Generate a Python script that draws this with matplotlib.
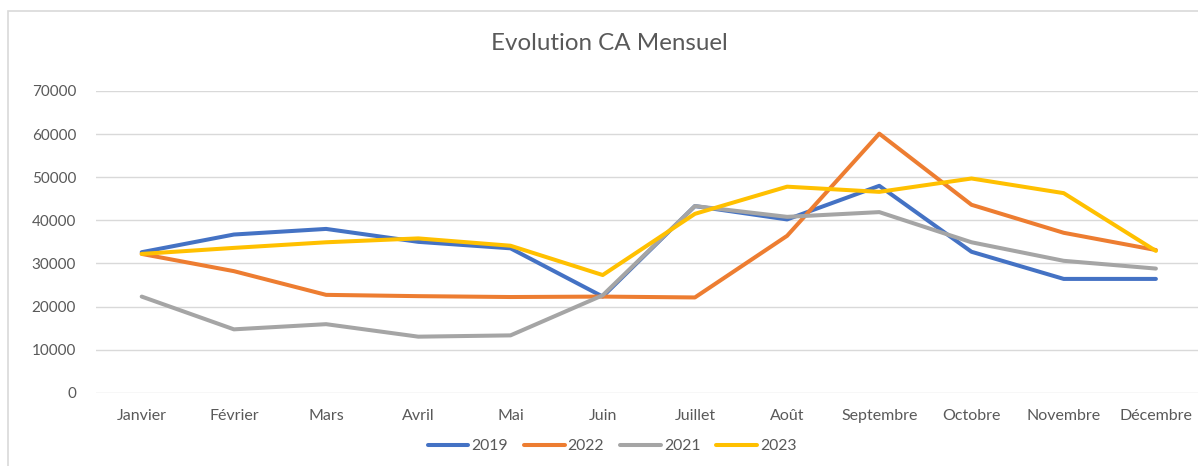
import matplotlib
matplotlib.use("Agg")
import matplotlib.pyplot as plt
from matplotlib.patches import Rectangle

months = ["Janvier", "Février", "Mars", "Avril", "Mai", "Juin", "Juillet",
          "Août", "Septembre", "Octobre", "Novembre", "Décembre"]
s2019 = [32600, 36700, 38000, 35000, 33500, 22300, 43300, 40200, 48000, 32700, 26400, 26400]
s2022 = [32200, 28200, 22700, 22400, 22200, 22300, 22100, 36400, 60100, 43600, 37100, 33100]
s2021 = [22300, 14700, 15900, 13000, 13300, 22600, 43300, 40800, 41900, 34900, 30600, 28800]
s2023 = [32200, 33600, 34900, 35800, 34100, 27300, 41500, 47800, 46600, 49700, 46300, 32900]
series_names = ["2019", "2022", "2021", "2023"]
colors = ["#4472C4", "#ED7D31", "#A5A5A5", "#FFC000"]
yticks = [0, 10000, 20000, 30000, 40000, 50000, 60000, 70000]

plt.rcParams['font.family'] = ['Lato', 'DejaVu Sans']
W, H = 1198, 466
fig = plt.figure(figsize=(W / 100, H / 100), dpi=100)
fig.patch.set_facecolor("white")

# chart area border
fig.patches.append(Rectangle((7.5 / W, -0.1), 1.2, (H - 11) / H + 0.1,
                             transform=fig.transFigure, fill=False,
                             edgecolor="#D9D9D9", lw=1.2))

left = 95.6 / W
right = 1202 / W
bottom = (H - 392.7) / H
top = (H - 91) / H
ax = fig.add_axes([left, bottom, right - left, top - bottom])
ax.set_facecolor("none")

x = list(range(len(months)))
for name, vals, c in zip(series_names, [s2019, s2022, s2021, s2023], colors):
    ax.plot(x, vals, color=c, lw=2.9, label=name,
            solid_capstyle="round", solid_joinstyle="round")

ax.set_xlim(-0.5, len(months) - 0.5)
ax.set_ylim(0, 70000)
ax.set_yticks(yticks)
ax.set_yticklabels([str(v) for v in yticks])
ax.set_xticks(x)
ax.set_xticklabels(months)
ax.grid(axis="y", color="#D9D9D9", lw=1.0)
ax.set_axisbelow(True)
for sp in ax.spines.values():
    sp.set_visible(False)
ax.tick_params(axis="both", length=0, colors="#595959")
ax.tick_params(axis="y", pad=14, labelsize=11)
ax.tick_params(axis="x", pad=12, labelsize=11.5)

fig.text(609.5 / W, 1 - 44 / H, "Evolution CA Mensuel", ha="center", va="center",
         fontsize=17.4, color="#595959")

leg = fig.legend(loc="center", bbox_to_anchor=(612 / W, 1 - 446 / H), ncol=4,
                 frameon=False, fontsize=11.3, handlelength=2.6,
                 handletextpad=0.2, columnspacing=1.0, labelcolor="#595959")
for l in leg.get_lines():
    l.set_linewidth(2.9)
    l.set_solid_capstyle("round")

fig.savefig("out.png", dpi=100)
